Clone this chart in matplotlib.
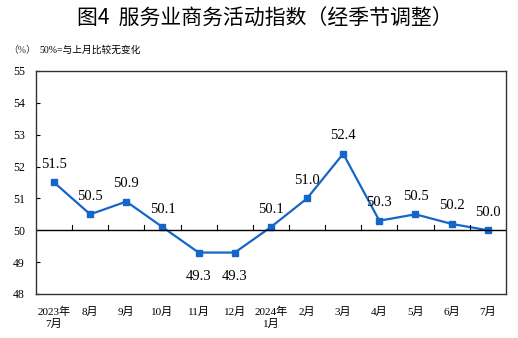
import matplotlib.pyplot as plt

plt.rcParams['font.family'] = ['Liberation Serif', 'Noto Sans CJK SC']

months = ['2023年\n7月', '8月', '9月', '10月', '11月', '12月', '2024年\n1月',
          '2月', '3月', '4月', '5月', '6月', '7月']
values = [51.5, 50.5, 50.9, 50.1, 49.3, 49.3, 50.1, 51.0, 52.4, 50.3, 50.5, 50.2, 50.0]
y_ticks = [48, 49, 50, 51, 52, 53, 54, 55]

fig = plt.figure(figsize=(5.18, 3.38), dpi=100)
ax = fig.add_axes([0.0695, 0.1302, 0.907, 0.660])

x = list(range(len(values)))
ax.plot(x, values, color='#1466c8', linewidth=1.6, marker='s', markersize=4.5)
ax.axhline(50, color='black', linewidth=1.0)

# small upward ticks on the 50 line between months
for b in range(len(values) - 1):
    ax.plot([b + 0.5, b + 0.5], [50, 50.16], color='black', linewidth=0.8)

for xi, v in zip(x, values):
    if v < 50:
        ax.annotate(f'{v:.1f}', (xi, v), xytext=(0, -17), textcoords='offset points',
                    ha='center', va='center', fontsize=10.5)
    else:
        ax.annotate(f'{v:.1f}', (xi, v), xytext=(0, 13), textcoords='offset points',
                    ha='center', va='center', fontsize=10.5)

ax.set_xlim(-0.5, len(values) - 0.5)
ax.set_ylim(48, 55)
ax.set_yticks(y_ticks)
ax.tick_params(axis='y', direction='in', length=3, labelsize=8.5, pad=8)
ax.set_xticks(x)
ax.set_xticklabels(months, fontsize=8, va='top', linespacing=1.3)
ax.tick_params(axis='x', length=0, pad=9)
for s in ax.spines.values():
    s.set_color('#333333')
    s.set_linewidth(1.0)

fig.text(0.512, 0.945, '图4  服务业商务活动指数（经季节调整）', ha='center', va='center',
         fontsize=15, family=['Noto Sans CJK SC'], fontweight='medium')
fig.text(0.015, 0.852, '（%）', ha='left', va='center', fontsize=7, color='#333333')
fig.text(0.077, 0.852, '50%=与上月比较无变化', ha='left', va='center', fontsize=7)

fig.savefig('out.png', dpi=100)
